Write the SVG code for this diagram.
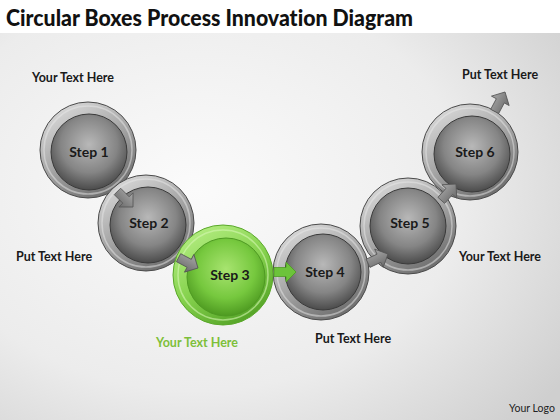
<svg xmlns="http://www.w3.org/2000/svg" width="560" height="420" viewBox="0 0 560 420">
<defs>
<radialGradient id="bg" cx="0.35" cy="0.45" r="0.8">
<stop offset="0" stop-color="#fbfbfb"/>
<stop offset="0.6" stop-color="#ececec"/>
<stop offset="1" stop-color="#cfcfcf"/>
</radialGradient>
<linearGradient id="ringG" x1="0.2" y1="0" x2="0.8" y2="1">
<stop offset="0" stop-color="#dcdcdc"/>
<stop offset="0.5" stop-color="#a4a4a4"/>
<stop offset="1" stop-color="#666666"/>
</linearGradient>
<radialGradient id="ballG" cx="0.5" cy="0.4" r="0.62">
<stop offset="0" stop-color="#b8b8b8"/>
<stop offset="0.6" stop-color="#858585"/>
<stop offset="1" stop-color="#464646"/>
</radialGradient>
<linearGradient id="ringGreen" x1="0.2" y1="0" x2="0.8" y2="1">
<stop offset="0" stop-color="#b6ee84"/>
<stop offset="0.5" stop-color="#86d24e"/>
<stop offset="1" stop-color="#4e9d22"/>
</linearGradient>
<radialGradient id="ballGreen" cx="0.5" cy="0.4" r="0.62">
<stop offset="0" stop-color="#a8e470"/>
<stop offset="0.6" stop-color="#76c83e"/>
<stop offset="1" stop-color="#4a961e"/>
</radialGradient>
<linearGradient id="arrG" x1="0" y1="0" x2="0" y2="1">
<stop offset="0" stop-color="#a8a8a8"/>
<stop offset="1" stop-color="#6a6a6a"/>
</linearGradient>
<path id="arr" d="M -22,-4.5 L -10,-4.5 L -10,-10 L 0,0 L -10,10 L -10,4.5 L -22,4.5 Z"/>
</defs>
<style>
.ring{fill:url(#ringG);stroke:#4a4a4a;stroke-width:1}
.ball{fill:url(#ballG);stroke:#3a3a3a;stroke-width:1}
.rim{fill:none;stroke:#e8e8e8;stroke-opacity:0.5;stroke-width:1.5}
.ringgr{fill:url(#ringGreen);stroke:#5aa82a;stroke-width:1}
.ballgr{fill:url(#ballGreen);stroke:#4e9a22;stroke-width:1}
.step{font-family:Lato,"Liberation Sans",sans-serif;font-weight:bold;font-size:14px;fill:#1a1a1a;text-anchor:middle}
.lbl{font-family:Lato,"Liberation Sans",sans-serif;font-weight:bold;font-size:12.5px;fill:#1a1a1a;text-anchor:middle}
.ga{fill:url(#arrG);stroke:#555;stroke-width:0.8}
.gra{fill:#6cc33a;stroke:#4e9a22;stroke-width:0.8}
text{font-variant-ligatures:none}
</style>
<rect x="0" y="0" width="560" height="420" fill="url(#bg)"/>
<rect x="0" y="0" width="560" height="33" fill="#ffffff"/>
<text x="6" y="26" font-family="Lato,'Liberation Sans',sans-serif" font-weight="900" font-size="22" fill="#111" textLength="407" lengthAdjust="spacingAndGlyphs">Circular Boxes Process Innovation Diagram</text>

<g id="step1">
<circle class="ring" cx="88" cy="150" r="48"/>
<circle class="ball" cx="89" cy="152" r="38"/>
<circle class="rim" cx="88" cy="150" r="44"/>
<text class="step" x="89" y="157">Step 1</text>
</g>
<g id="step2">
<circle class="ring" cx="146" cy="223" r="48"/>
<circle class="ball" cx="148" cy="225" r="38"/>
<circle class="rim" cx="146" cy="223" r="44"/>
<text class="step" x="149" y="228">Step 2</text>
</g>
<g id="step4">
<circle class="ring" cx="321" cy="272" r="48"/>
<circle class="ball" cx="323" cy="272" r="38"/>
<circle class="rim" cx="321" cy="272" r="44"/>
<text class="step" x="325" y="277">Step 4</text>
</g>
<g id="step5">
<circle class="ring" cx="408" cy="226" r="48"/>
<circle class="ball" cx="408" cy="226" r="38"/>
<circle class="rim" cx="408" cy="226" r="44"/>
<text class="step" x="410" y="228">Step 5</text>
</g>
<g id="step6">
<circle class="ring" cx="470" cy="152" r="48"/>
<circle class="ball" cx="472" cy="154" r="38"/>
<circle class="rim" cx="470" cy="152" r="44"/>
<text class="step" x="475" y="157">Step 6</text>
</g>
<g id="step3">
<circle class="ringgr" cx="223" cy="275" r="50"/>
<circle class="ballgr" cx="226" cy="277" r="39"/>
<circle fill="none" stroke="#d4f7b0" stroke-opacity="0.6" stroke-width="1.5" cx="223" cy="275" r="45"/>
<text class="step" x="230" y="280">Step 3</text>
</g>

<g id="connectors">
<use href="#arr" class="ga" transform="translate(133,207) rotate(45)"/>
<use href="#arr" class="ga" transform="translate(198,268) rotate(28)"/>
<use href="#arr" class="gra" transform="translate(296,272) rotate(0)"/>
<use href="#arr" class="ga" transform="translate(388,254) rotate(-25)"/>
<use href="#arr" class="ga" transform="translate(456,184) rotate(-48)"/>
<use href="#arr" class="ga" transform="translate(505,92) rotate(-62)"/>
</g>

<g id="labels">
<text class="lbl" x="73" y="82">Your Text Here</text>
<text class="lbl" x="54" y="261">Put Text Here</text>
<text class="lbl" x="197" y="347" style="fill:#7dbf3a">Your Text Here</text>
<text class="lbl" x="353" y="343">Put Text Here</text>
<text class="lbl" x="500" y="261">Your Text Here</text>
<text class="lbl" x="500" y="79">Put Text Here</text>
<text x="532" y="412" font-family="Lato,'Liberation Sans',sans-serif" font-size="10.5" fill="#222" text-anchor="middle">Your Logo</text>
</g>
</svg>
